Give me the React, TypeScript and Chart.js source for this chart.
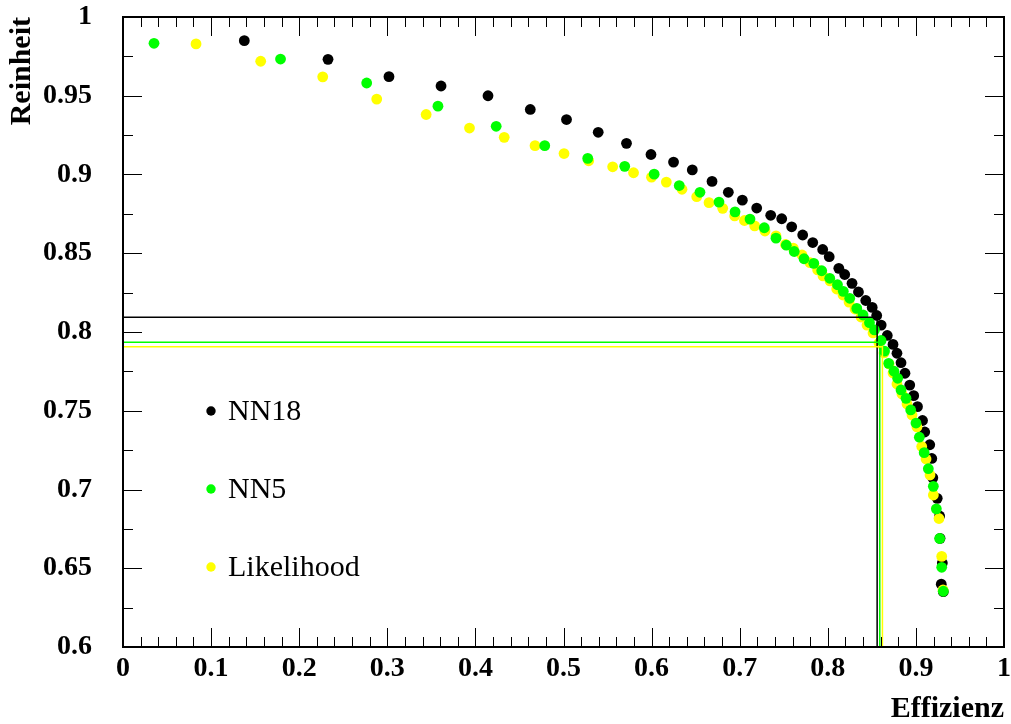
import { useEffect, useRef } from "react";
import { Chart, registerables } from "chart.js";

Chart.register(...registerables);

// Series: efficiency (x) and purity (y) for each classifier
const seriesNames = ["NN18", "NN5", "Likelihood"];
const seriesColors = ["#000000", "#00ff00", "#ffff00"];

const nn18Eff = [
  0.1377, 0.2327, 0.3019, 0.361, 0.4143, 0.4623, 0.5034, 0.5394, 0.5715, 0.5993,
  0.6249, 0.6462, 0.6686, 0.6871, 0.703, 0.7193, 0.7352, 0.7477, 0.759, 0.7715,
  0.7829, 0.7942, 0.8016, 0.8125, 0.8192, 0.8275, 0.8348, 0.8431, 0.8504, 0.8555,
  0.8606, 0.8675, 0.874, 0.8785, 0.8831, 0.8876, 0.893, 0.8975, 0.9018, 0.9075,
  0.91, 0.9157, 0.918, 0.9192, 0.9242, 0.9269, 0.9274, 0.93, 0.9288, 0.9311,
];
const nn18Pur = [
  0.985, 0.9731, 0.9621, 0.9562, 0.95, 0.9413, 0.9349, 0.9268, 0.9198, 0.9127,
  0.9079, 0.9029, 0.8956, 0.8887, 0.8837, 0.8787, 0.8741, 0.8719, 0.8668, 0.8616,
  0.8568, 0.8524, 0.8478, 0.8404, 0.8365, 0.8309, 0.8254, 0.82, 0.8156, 0.8105,
  0.8044, 0.7978, 0.7921, 0.7865, 0.7805, 0.7738, 0.7663, 0.7596, 0.7526, 0.7438,
  0.7365, 0.7284, 0.7197, 0.7074, 0.6944, 0.6832, 0.669, 0.6533, 0.6399, 0.6351,
];

const nn5Eff = [
  0.0352, 0.1788, 0.2766, 0.3575, 0.4236, 0.4787, 0.5275, 0.5695, 0.6029, 0.6314,
  0.6549, 0.6765, 0.6947, 0.7117, 0.7279, 0.7412, 0.7529, 0.7619, 0.773, 0.7841,
  0.7931, 0.8022, 0.811, 0.8176, 0.8249, 0.8329, 0.84, 0.8473, 0.853, 0.8605,
  0.8644, 0.8691, 0.8751, 0.8793, 0.8831, 0.8888, 0.8941, 0.9001, 0.9039, 0.9094,
  0.9141, 0.9198, 0.9232, 0.927, 0.9293, 0.9311,
];
const nn5Pur = [
  0.9833, 0.9733, 0.9581, 0.9434, 0.9306, 0.9183, 0.9102, 0.9052, 0.9002, 0.893,
  0.8887, 0.8825, 0.8763, 0.8717, 0.8662, 0.8596, 0.8551, 0.8511, 0.8465, 0.8436,
  0.8389, 0.8341, 0.83, 0.8258, 0.8214, 0.815, 0.8108, 0.8059, 0.8013, 0.7946,
  0.7879, 0.7801, 0.7751, 0.7706, 0.7632, 0.7579, 0.7505, 0.7422, 0.7332, 0.7234,
  0.7132, 0.702, 0.6877, 0.6689, 0.6506, 0.6354,
];

const likeEff = [
  0.0829, 0.1563, 0.2267, 0.288, 0.3441, 0.3933, 0.4327, 0.4677, 0.5006, 0.5286,
  0.5558, 0.5795, 0.5999, 0.6167, 0.6345, 0.6512, 0.6652, 0.6807, 0.6943, 0.7054,
  0.717, 0.7287, 0.7412, 0.752, 0.7608, 0.7707, 0.7798, 0.7885, 0.7946, 0.8025,
  0.8101, 0.8173, 0.8241, 0.8309, 0.8377, 0.8445, 0.8513, 0.8581, 0.8638, 0.8695,
  0.874, 0.8785, 0.8842, 0.8899, 0.8956, 0.9012, 0.9066, 0.9115, 0.916, 0.9198,
  0.9262, 0.9293, 0.9308,
];
const likePur = [
  0.9829, 0.9719, 0.962, 0.9479, 0.9381, 0.9295, 0.9236, 0.9183, 0.9133, 0.9087,
  0.9049, 0.9011, 0.8983, 0.8952, 0.8906, 0.8859, 0.8821, 0.8785, 0.8737, 0.8708,
  0.8674, 0.8641, 0.861, 0.8556, 0.8533, 0.8489, 0.844, 0.8394, 0.8356, 0.8324,
  0.8273, 0.8235, 0.819, 0.8146, 0.8095, 0.8044, 0.7994, 0.793, 0.7867, 0.7797,
  0.774, 0.767, 0.7606, 0.7543, 0.7473, 0.7397, 0.7273, 0.7194, 0.7092, 0.6965,
  0.6816, 0.6575, 0.6362,
];

// Working points (efficiency, purity) per classifier
const cutEff = [0.856, 0.859, 0.862];
const cutPur = [0.8093, 0.7935, 0.7907];

// Axis ranges and tick spacing
const xRange = [0, 1];
const yRange = [0.6, 1];
const xMajor = 0.1;
const xMinor = 0.02;
const yMajor = 0.05;
const yMinor = 0.025;

const SERIF = '"Liberation Serif", "Times New Roman", serif';

const toPoints = (xs: number[], ys: number[]) => xs.map((x, i) => ({ x, y: ys[i] }));
const fmt = (v: number | string) => String(+Number(v).toFixed(3));

const frameTicks = {
  id: "frameTicks",
  afterDatasetsDraw(chart: any) {
    const { ctx, chartArea: a, scales } = chart;
    const xs = scales.x;
    const ys = scales.y;
    ctx.save();
    ctx.strokeStyle = "#000";
    ctx.lineWidth = 1;
    ctx.beginPath();
    const nx = Math.round((xRange[1] - xRange[0]) / xMinor);
    for (let i = 0; i <= nx; i++) {
      const v = xRange[0] + i * xMinor;
      const isMajor = Math.abs(v / xMajor - Math.round(v / xMajor)) < 1e-6;
      const len = isMajor ? 19 : 10;
      const px = Math.round(xs.getPixelForValue(v)) + 0.5;
      ctx.moveTo(px, a.bottom);
      ctx.lineTo(px, a.bottom - len);
      ctx.moveTo(px, a.top);
      ctx.lineTo(px, a.top + len);
    }
    const ny = Math.round((yRange[1] - yRange[0]) / yMinor);
    for (let i = 0; i <= ny; i++) {
      const v = yRange[0] + i * yMinor;
      const isMajor = Math.abs(v / yMajor - Math.round(v / yMajor)) < 1e-6;
      const len = isMajor ? 19 : 10;
      const py = Math.round(ys.getPixelForValue(v)) + 0.5;
      ctx.moveTo(a.left, py);
      ctx.lineTo(a.left + len, py);
      ctx.moveTo(a.right, py);
      ctx.lineTo(a.right - len, py);
    }
    ctx.stroke();
    ctx.lineWidth = 2;
    ctx.strokeRect(a.left, a.top, a.right - a.left, a.bottom - a.top);
    ctx.restore();
  },
};

const innerLegend = {
  id: "innerLegend",
  afterDraw(chart: any) {
    const { ctx, chartArea: a } = chart;
    ctx.save();
    ctx.font = `30px ${SERIF}`;
    ctx.textBaseline = "middle";
    ctx.textAlign = "left";
    const rows = [411, 489, 567];
    seriesNames.forEach((name, i) => {
      const y = rows[i];
      const x = a.left + 88;
      ctx.fillStyle = seriesColors[i];
      ctx.beginPath();
      ctx.arc(x, y, 4.7, 0, Math.PI * 2);
      ctx.fill();
      ctx.fillStyle = "#000";
      ctx.fillText(name, x + 17, y + 1);
    });
    ctx.restore();
  },
};

export default function App() {
  const ref = useRef<HTMLCanvasElement>(null);

  useEffect(() => {
    if (!ref.current) return;
    const pts = [toPoints(nn18Eff, nn18Pur), toPoints(nn5Eff, nn5Pur), toPoints(likeEff, likePur)];
    const order = [3, 1, 2];

    const markerSets = seriesNames.map((name, i) => ({
      type: "scatter" as const,
      label: name,
      data: pts[i],
      backgroundColor: seriesColors[i],
      borderWidth: 0,
      pointRadius: 5.4,
      pointHoverRadius: 5.4,
      order: order[i],
    }));

    const cutSets = seriesNames.map((name, i) => ({
      type: "line" as const,
      label: name + " cut",
      data: [
        { x: xRange[0], y: cutPur[i] },
        { x: cutEff[i], y: cutPur[i] },
        { x: cutEff[i], y: yRange[0] },
      ],
      borderColor: seriesColors[i],
      borderWidth: 1.5,
      pointRadius: 0,
      fill: false,
      tension: 0,
      order: -1 - i,
    }));

    const chart = new Chart(ref.current, {
      type: "scatter",
      data: { datasets: [...markerSets, ...cutSets] as any },
      options: {
        animation: false,
        responsive: false,
        devicePixelRatio: 1,
        events: [],
        layout: { autoPadding: false, padding: { top: 17, right: 7, left: 0, bottom: 0 } },
        plugins: { legend: { display: false }, tooltip: { enabled: false } },
        scales: {
          x: {
            type: "linear",
            min: xRange[0],
            max: xRange[1],
            grid: { display: false, drawTicks: false },
            border: { display: false },
            ticks: {
              stepSize: xMajor,
              color: "#000",
              padding: 5,
              maxRotation: 0,
              callback: (v: any) => fmt(v),
              font: { family: SERIF, size: 28, weight: "bold" },
            },
            title: {
              display: true,
              text: "Effizienz",
              align: "end",
              color: "#000",
              padding: { top: 0, bottom: 0 },
              font: { family: SERIF, size: 30, weight: "bold", lineHeight: 1 },
            },
            afterFit: (s: any) => {
              s.height = 77;
              s.paddingLeft = 0;
              s.paddingRight = 0;
            },
          },
          y: {
            type: "linear",
            min: yRange[0],
            max: yRange[1],
            grid: { display: false, drawTicks: false },
            border: { display: false },
            ticks: {
              stepSize: yMajor,
              color: "#000",
              padding: 31,
              callback: (v: any) => fmt(v),
              font: { family: SERIF, size: 28, weight: "bold" },
            },
            title: {
              display: true,
              text: "Reinheit",
              align: "end",
              color: "#000",
              padding: { top: 6, bottom: 0 },
              font: { family: SERIF, size: 30, weight: "bold", lineHeight: 1.1 },
            },
            afterFit: (s: any) => {
              s.width = 123;
              s.paddingTop = 0;
              s.paddingBottom = 0;
            },
          },
        },
      },
      plugins: [frameTicks, innerLegend],
    });
    return () => chart.destroy();
  }, []);

  return (
    <div style={{ position: "fixed", left: 0, top: 0, width: 1011, height: 724, background: "#fff" }}>
      <canvas ref={ref} width={1011} height={724} style={{ display: "block" }} />
    </div>
  );
}
